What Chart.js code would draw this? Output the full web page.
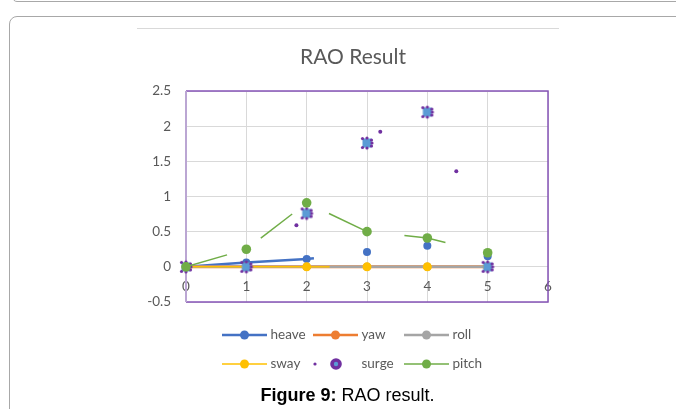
<!DOCTYPE html>
<html>
<head>
<meta charset="utf-8">
<script src="https://cdn.jsdelivr.net/npm/chart.js@4.4.1/dist/chart.umd.min.js"></script>
<style>
  html, body { margin: 0; padding: 0; background: #fff; width: 676px; height: 409px; overflow: hidden; position: relative; }
  #prevBox { position: absolute; left: 12px; top: -30px; width: 720px; height: 32px; border: 1px solid #a8a8a8; border-radius: 5px; box-sizing: border-box; }
  #frame { position: absolute; left: 9px; top: 16px; width: 720px; height: 520px; border: 1px solid #a8a8a8; border-radius: 8px; box-sizing: border-box; }
  #imgTop { position: absolute; left: 137px; top: 28px; width: 422px; height: 1px; background: #d9d9d9; }
  #chart { position: absolute; left: 0; top: 0; }
  #title { position: absolute; left: 0; top: 43px; width: 706px; text-align: center; font-family: Lato, "Open Sans", sans-serif; font-size: 21px; line-height: 26px; color: #595959; }
  #caption { position: absolute; left: 0; top: 385px; width: 695px; text-align: center; font-family: "Liberation Sans", Arial, sans-serif; font-size: 18px; line-height: 20px; color: #000; }
</style>
</head>
<body>
<div id="prevBox"></div>
<div id="frame"></div>
<div id="imgTop"></div>
<canvas id="chart" width="676" height="409"></canvas>
<div id="title"></div>
<div id="caption"><b>Figure 9:</b> RAO result.</div>
<script>
// ---- data ----
const xValues = [0, 1, 2, 3, 4, 5];
const heave = [0, 0.06, 0.11, 0.21, 0.30, 0.15];
const yaw   = [0, 0, 0, 0, 0, 0];
const roll  = [0, 0, 0, 0, 0, 0];
const sway  = [0, 0, 0, 0, 0, 0];
const surge = [0, 0, 0.76, 1.76, 2.2, 0];
const pitch = [0, 0.25, 0.91, 0.5, 0.41, 0.2];
const surgeDotX = [1.83, 3.22, 4.48];
const surgeDotY = [0.59, 1.92, 1.36];
const seriesNames = ['heave', 'yaw', 'roll', 'sway', 'surge', 'pitch'];
const chartTitle = 'RAO Result';

document.getElementById('title').textContent = chartTitle;

// ---- style: visible fraction of each line segment (as rendered in the reference) ----
const heaveSpans = [[0, 1], [0, 1], [0, 0.12], [0, 0], [0, 0]];
const swaySpans  = [[0, 1], [0, 1], [0, 0.38], [0, 0], [0, 0]];
const pitchSpans = [[0, 0.68], [0.24, 0.76], [0.37, 1], [0.62, 1], [0, 0.3]];

const FONT = 'Lato, "Open Sans", sans-serif';
const TEXT = '#595959';

function pts(xs, ys) { return xs.map((x, i) => ({ x: x, y: ys[i] })); }

function partialLine(spans) {
  return {
    borderDash: (c) => {
      const s = spans[c.p0DataIndex];
      if (!s || (s[0] <= 0 && s[1] >= 1) || s[1] <= s[0]) return undefined;
      const L = Math.hypot(c.p1.x - c.p0.x, c.p1.y - c.p0.y);
      return [0, s[0] * L, (s[1] - s[0]) * L, L + 40];
    },
    borderColor: (c) => {
      const s = spans[c.p0DataIndex];
      return (s && s[1] > s[0]) ? undefined : 'rgba(0,0,0,0)';
    }
  };
}

function lineSymbol(color, lw, r) {
  const c = document.createElement('canvas');
  c.width = 46; c.height = 14;
  const g = c.getContext('2d');
  g.strokeStyle = color; g.lineWidth = lw;
  g.beginPath(); g.moveTo(0, 7); g.lineTo(45, 7); g.stroke();
  g.fillStyle = color;
  g.beginPath(); g.arc(22.5, 7, r, 0, Math.PI * 2); g.fill();
  return c;
}
function surgeSymbol() {
  const c = document.createElement('canvas');
  c.width = 46; c.height = 14;
  const g = c.getContext('2d');
  g.fillStyle = '#7030A0';
  g.beginPath(); g.arc(2, 7, 1.6, 0, Math.PI * 2); g.fill();
  g.beginPath(); g.arc(23, 7, 5.8, 0, Math.PI * 2); g.fill();
  g.fillStyle = '#5B9BD5';
  g.beginPath(); g.arc(23, 7, 2.2, 0, Math.PI * 2); g.fill();
  return c;
}
function surgeMarker() {
  const c = document.createElement('canvas');
  c.width = 16; c.height = 16;
  const g = c.getContext('2d');
  g.fillStyle = '#5B9BD5';
  g.fillRect(3.5, 3.5, 9, 9);
  g.fillStyle = '#7030A0';
  const dots = [[3.5, 3.5], [3.5, 12.5], [12.5, 5], [13, 8], [12.5, 11], [8, 3], [8, 13]];
  dots.forEach(([dx, dy]) => { g.beginPath(); g.arc(dx, dy, 1.6, 0, Math.PI * 2); g.fill(); });
  return c;
}

const plotFrame = {
  id: 'plotFrame',
  beforeDatasetsDraw(chart, args, o) {
    const { ctx, chartArea: a } = chart;
    ctx.save();
    ctx.lineWidth = o.width;
    ctx.strokeStyle = o.color;
    ctx.beginPath();
    ctx.moveTo(a.left, a.top); ctx.lineTo(a.right, a.top);
    ctx.lineTo(a.right, a.bottom); ctx.lineTo(a.left, a.bottom);
    ctx.stroke();
    ctx.strokeStyle = o.axisColor;
    ctx.lineWidth = o.axisWidth;
    ctx.beginPath(); ctx.moveTo(a.left, a.top); ctx.lineTo(a.left, a.bottom); ctx.stroke();
    ctx.restore();
  }
};

const legendGrid = {
  id: 'legendGrid',
  afterDraw(chart, args, o) {
    const ctx = chart.ctx;
    const items = chart.data.datasets.filter(d => d.legendSymbol);
    ctx.save();
    ctx.font = o.font; ctx.fillStyle = o.color;
    ctx.textBaseline = 'middle'; ctx.textAlign = 'left';
    items.forEach((d, i) => {
      const col = i % o.cols, row = Math.floor(i / o.cols);
      const x = o.left + col * o.colWidth, y = o.top + row * o.rowHeight;
      ctx.drawImage(d.legendSymbol, x, Math.round(y - d.legendSymbol.height / 2));
      ctx.fillText(d.label, x + o.textOffset, y);
    });
    ctx.restore();
  }
};

const surgeImg = surgeMarker();

const datasets = [
  { label: seriesNames[0], data: pts(xValues, heave), borderColor: '#4472C4', backgroundColor: '#4472C4',
    borderWidth: 2.5, pointRadius: 4, pointBorderWidth: 0, order: 6, segment: partialLine(heaveSpans),
    legendSymbol: lineSymbol('#4472C4', 2.5, 4.5) },
  { label: seriesNames[1], data: pts(xValues, yaw), borderColor: '#ED7D31', backgroundColor: '#ED7D31',
    borderWidth: 3, pointRadius: 4, pointBorderWidth: 0, order: 5,
    legendSymbol: lineSymbol('#ED7D31', 2.5, 4.5) },
  { label: seriesNames[2], data: pts(xValues, roll), borderColor: '#A5A5A5', backgroundColor: '#A5A5A5',
    borderWidth: 2.5, pointRadius: 4, pointBorderWidth: 0, order: 4,
    legendSymbol: lineSymbol('#A5A5A5', 2.5, 4.5) },
  { label: seriesNames[3], data: pts(xValues, sway), borderColor: '#FFC000', backgroundColor: '#FFC000',
    borderWidth: 1.5, pointRadius: 4.5, pointBorderWidth: 0, order: 3, segment: partialLine(swaySpans),
    legendSymbol: lineSymbol('#FFC000', 1.5, 4.5) },
  { label: seriesNames[4], data: pts(xValues, surge), showLine: false, pointStyle: surgeImg,
    borderColor: '#7030A0', backgroundColor: '#5B9BD5', order: 2,
    legendSymbol: surgeSymbol() },
  { label: seriesNames[5], data: pts(xValues, pitch), borderColor: '#70AD47', backgroundColor: '#70AD47',
    borderWidth: 1.5, pointRadius: 4.8, pointBorderWidth: 0, order: 0, segment: partialLine(pitchSpans),
    legendSymbol: lineSymbol('#70AD47', 1.5, 4.5) },
  { label: '', data: pts(surgeDotX, surgeDotY), showLine: false, pointRadius: 2, pointBorderWidth: 0,
    backgroundColor: '#7030A0', borderColor: '#7030A0', order: 1 }
];

new Chart(document.getElementById('chart'), {
  type: 'line',
  data: { datasets: datasets },
  plugins: [plotFrame, legendGrid],
  options: {
    responsive: false,
    animation: false,
    clip: false,
    elements: { line: { tension: 0, borderCapStyle: 'butt' }, point: { hoverRadius: 0 } },
    layout: { padding: { left: 137, right: 128, top: 91, bottom: 107 } },
    scales: {
      x: {
        type: 'linear', min: 0, max: 6, position: { y: 0 },
        ticks: { stepSize: 1, color: TEXT, font: { family: FONT, size: 13.5 }, padding: 12,
                 callback: (v) => String(v) },
        grid: { color: '#D9D9D9', lineWidth: 1, drawTicks: false },
        border: { display: false }
      },
      y: {
        min: -0.5, max: 2.5,
        afterFit: (s) => { s.width = 49; },
        ticks: { stepSize: 0.5, color: TEXT, font: { family: FONT, size: 13.5 }, padding: 15,
                 callback: (v) => String(Math.round(v * 10) / 10) },
        grid: { color: '#D9D9D9', lineWidth: 1, drawTicks: false },
        border: { display: false }
      }
    },
    plugins: {
      legend: { display: false },
      tooltip: { enabled: false },
      title: { display: false },
      plotFrame: { color: '#8754B8', width: 1.5, axisColor: '#BBA6D3', axisWidth: 2 },
      legendGrid: { left: 222, top: 335, cols: 3, colWidth: 91, rowHeight: 28.5, textOffset: 48.5,
                    font: '13.5px ' + FONT, color: TEXT }
    }
  }
});
</script>
</body>
</html>
